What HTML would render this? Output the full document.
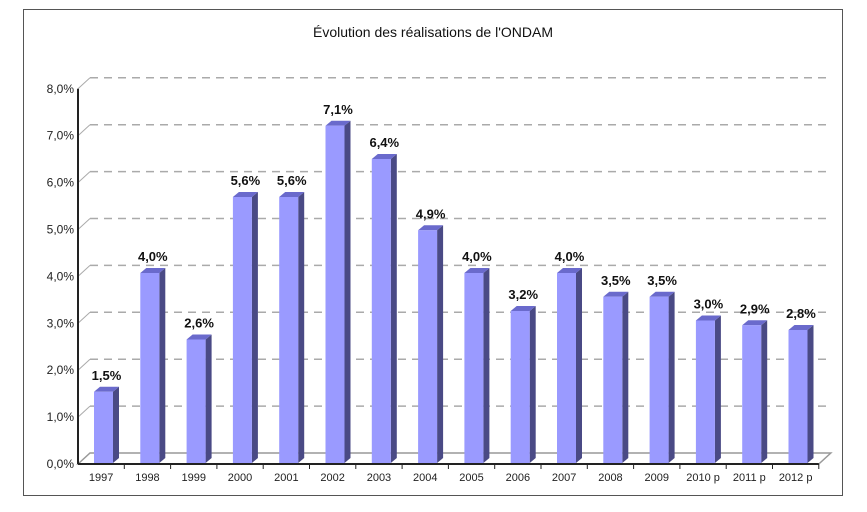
<!DOCTYPE html>
<html><head><meta charset="utf-8"><style>
body{margin:0;background:#fff;}
svg{display:block;font-family:"Liberation Sans",sans-serif;}
</style></head><body>
<svg id="c" width="867" height="512">
<rect x="23.5" y="9.5" width="819" height="486" fill="#fff" stroke="#555" stroke-width="1"/>
<text x="433" y="37" text-anchor="middle" font-size="14" fill="#111">Évolution des réalisations de l'ONDAM</text>
<g id="grid"></g><g id="bars"></g><g id="axes"></g>
</svg>
<script>
const categories=["1997","1998","1999","2000","2001","2002","2003","2004","2005","2006","2007","2008","2009","2010 p","2011 p","2012 p"];
const values=[1.5,4.0,2.6,5.6,5.6,7.1,6.4,4.9,4.0,3.2,4.0,3.5,3.5,3.0,2.9,2.8];
const valueLabels=["1,5%","4,0%","2,6%","5,6%","5,6%","7,1%","6,4%","4,9%","4,0%","3,2%","4,0%","3,5%","3,5%","3,0%","2,9%","2,8%"];
const yTicks=[0,1,2,3,4,5,6,7,8];
const yTickLabels=["0,0%","1,0%","2,0%","3,0%","4,0%","5,0%","6,0%","7,0%","8,0%"];
const NS="http://www.w3.org/2000/svg";
const x0=78,band=46.3,y0=464,ppu=46.9,dx=12,dy=11;
const y=v=>y0-v*ppu;
const yb=v=>463-v*47.5;
const xb=i=>x0+band*i;
function mk(t,a,p){const e=document.createElementNS(NS,t);for(const k in a)e.setAttribute(k,a[k]);p.appendChild(e);return e;}
const grid=document.getElementById('grid'),bars=document.getElementById('bars'),axes=document.getElementById('axes');
const xEnd=xb(categories.length);
const fl=mk('polygon',{points:`${x0},${y0} ${x0+dx},${y0-dy} ${xEnd+dx},${y0-dy} ${xEnd},${y0}`,fill:'none',stroke:'#999','stroke-width':1.5},grid);


yTicks.forEach((t,k)=>{
  if(t>0){
    const l=mk('line',{x1:x0+dx,y1:y(t)-dy,x2:xEnd+dx,y2:y(t)-dy,stroke:'#aaa','stroke-width':1.5,'stroke-dasharray':'8,6'},grid);
    
    
    const d=mk('line',{x1:x0,y1:y(t),x2:x0+dx,y2:y(t)-dy,stroke:'#aaa','stroke-width':1},grid);
    
    
  }
  const tl=mk('text',{x:x0-4,y:y(t)+4,'text-anchor':'end','font-size':12,fill:'#222'},axes);
  tl.textContent=yTickLabels[k];
  
  
});
const ya=mk('line',{x1:x0,y1:y(8),x2:x0,y2:y0,stroke:'#222','stroke-width':2},axes);


const xa=mk('line',{x1:x0,y1:y0,x2:xEnd,y2:y0,stroke:'#222','stroke-width':2},axes);


const bw=19,sd=6,td=5;
categories.forEach((c,i)=>{
  const bx=xb(i)+16,top=yb(values[i]),bot=y0-1;
  const g=mk('g',{},bars);
  
  
  mk('polygon',{points:`${bx+bw},${top} ${bx+bw+sd},${top-td} ${bx+bw+sd},${bot-td} ${bx+bw},${bot}`,fill:'#4a4a85'},g);
  mk('polygon',{points:`${bx},${top} ${bx+sd},${top-td} ${bx+bw+sd},${top-td} ${bx+bw},${top}`,fill:'#6a6acc'},g);
  mk('rect',{x:bx,y:top,width:bw,height:bot-top,fill:'#9a9aff'},g);
  const vl=mk('text',{x:bx+bw/2+3,y:top-12,'text-anchor':'middle','font-size':13,'font-weight':'bold',fill:'#111'},bars);
  vl.textContent=valueLabels[i];
  
  
  const tk=mk('line',{x1:xb(i+1),y1:y0,x2:xb(i+1),y2:y0+5,stroke:'#222'},axes);
  
  
  const xl=mk('text',{x:xb(i)+band/2,y:y0+17,'text-anchor':'middle','font-size':11,fill:'#222'},axes);
  xl.textContent=c;
  
  
});
</script>
</body></html>
